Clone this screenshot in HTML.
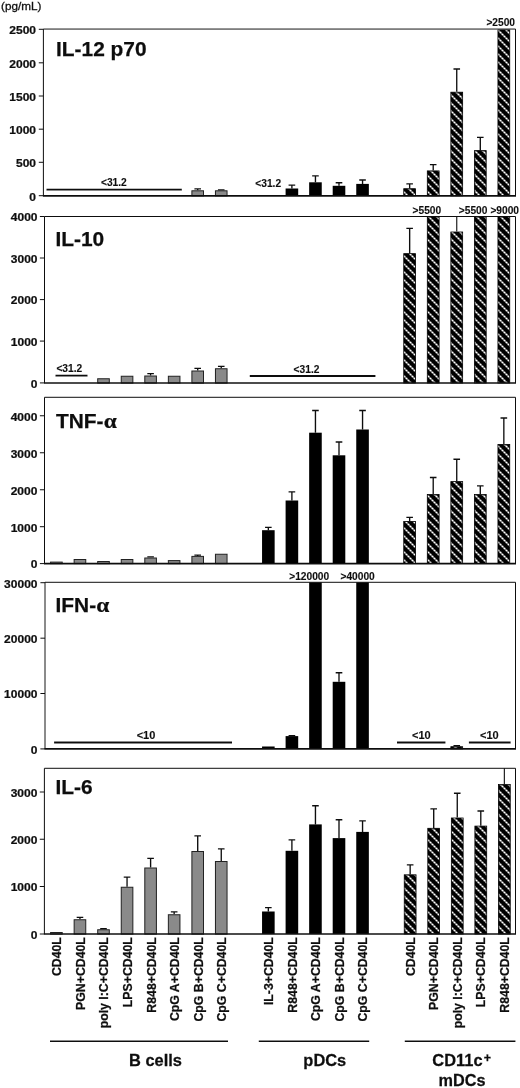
<!DOCTYPE html>
<html lang="en"><head><meta charset="utf-8"><title>Cytokine production</title>
<style>html,body{margin:0;padding:0;background:#fff}svg{display:block}text{font-family:"Liberation Sans",sans-serif;fill:#111}.b{font-weight:bold;stroke:#111;stroke-width:.25px}</style>
</head><body>
<svg width="520" height="1088" viewBox="0 0 520 1088">
<defs><pattern id="hat" x="0" y="0" width="8" height="8" patternUnits="userSpaceOnUse"><rect width="8" height="8" fill="#000"/><path d="M3,-1 L9,5 M-1,3 L5,9" stroke="#7c7c7c" stroke-width="1.45"/><path d="M3.65,-0.35h1.7v1.7h-1.7z M5.65,1.65h1.7v1.7h-1.7z M-0.35,3.65h1.7v1.7h-1.7z M1.65,5.65h1.7v1.7h-1.7z M7.65,3.65h1.7v1.7h-1.7z M3.65,7.65h1.7v1.7h-1.7z" fill="#fff"/></pattern><filter id="soft" filterUnits="userSpaceOnUse" x="0" y="0" width="520" height="1088"><feGaussianBlur stdDeviation="0.32"/></filter><filter id="soft2" filterUnits="userSpaceOnUse" x="0" y="0" width="520" height="1088"><feGaussianBlur stdDeviation="0.18"/></filter></defs>
<rect width="520" height="1088" fill="#fff"/>
<g filter="url(#soft2)"><rect x="403.75" y="188.70" width="11.80" height="7.10" fill="url(#hat)" stroke="#000" stroke-width="0.8"/>
<rect x="427.30" y="170.90" width="11.80" height="24.90" fill="url(#hat)" stroke="#000" stroke-width="0.8"/>
<rect x="450.85" y="92.20" width="11.80" height="103.60" fill="url(#hat)" stroke="#000" stroke-width="0.8"/>
<rect x="474.40" y="150.60" width="11.80" height="45.20" fill="url(#hat)" stroke="#000" stroke-width="0.8"/>
<rect x="497.95" y="29.90" width="11.80" height="165.90" fill="url(#hat)" stroke="#000" stroke-width="0.8"/>
<rect x="403.75" y="253.65" width="11.80" height="129.35" fill="url(#hat)" stroke="#000" stroke-width="0.8"/>
<rect x="427.30" y="216.80" width="11.80" height="166.20" fill="url(#hat)" stroke="#000" stroke-width="0.8"/>
<rect x="450.85" y="232.00" width="11.80" height="151.00" fill="url(#hat)" stroke="#000" stroke-width="0.8"/>
<rect x="474.40" y="216.80" width="11.80" height="166.20" fill="url(#hat)" stroke="#000" stroke-width="0.8"/>
<rect x="497.95" y="216.80" width="11.80" height="166.20" fill="url(#hat)" stroke="#000" stroke-width="0.8"/>
<rect x="403.75" y="521.40" width="11.80" height="42.20" fill="url(#hat)" stroke="#000" stroke-width="0.8"/>
<rect x="427.30" y="494.50" width="11.80" height="69.10" fill="url(#hat)" stroke="#000" stroke-width="0.8"/>
<rect x="450.85" y="481.60" width="11.80" height="82.00" fill="url(#hat)" stroke="#000" stroke-width="0.8"/>
<rect x="474.40" y="494.50" width="11.80" height="69.10" fill="url(#hat)" stroke="#000" stroke-width="0.8"/>
<rect x="497.95" y="444.40" width="11.80" height="119.20" fill="url(#hat)" stroke="#000" stroke-width="0.8"/>
<rect x="450.85" y="746.70" width="11.80" height="2.20" fill="url(#hat)" stroke="#000" stroke-width="0.8"/>
<rect x="404.25" y="874.80" width="11.80" height="59.20" fill="url(#hat)" stroke="#000" stroke-width="0.8"/>
<rect x="427.80" y="828.30" width="11.80" height="105.70" fill="url(#hat)" stroke="#000" stroke-width="0.8"/>
<rect x="451.35" y="818.00" width="11.80" height="116.00" fill="url(#hat)" stroke="#000" stroke-width="0.8"/>
<rect x="474.90" y="826.10" width="11.80" height="107.90" fill="url(#hat)" stroke="#000" stroke-width="0.8"/>
<rect x="498.45" y="784.60" width="11.80" height="149.40" fill="url(#hat)" stroke="#000" stroke-width="0.8"/></g>
<g filter="url(#soft)">
<text x="1" y="9.8" font-size="11.1" textLength="40.3" lengthAdjust="spacingAndGlyphs" style="stroke:#111;stroke-width:.3px">(pg/mL)</text>
<path d="M197.70,190.30 V188.50 M194.40,188.90 H201.00" stroke="#111" stroke-width="1.35" fill="none"/>
<rect x="191.90" y="190.80" width="11.60" height="5.00" fill="#8a8a8a" stroke="#222" stroke-width="1"/>
<path d="M221.25,190.30 V189.40 M217.95,189.80 H224.55" stroke="#111" stroke-width="1.35" fill="none"/>
<rect x="215.45" y="190.80" width="11.60" height="5.00" fill="#8a8a8a" stroke="#222" stroke-width="1"/>
<path d="M291.90,188.50 V184.70 M288.60,185.10 H295.20" stroke="#111" stroke-width="1.35" fill="none"/>
<rect x="285.60" y="188.50" width="12.60" height="7.30" fill="#000"/>
<path d="M315.45,182.30 V175.50 M312.15,175.90 H318.75" stroke="#111" stroke-width="1.35" fill="none"/>
<rect x="309.15" y="182.30" width="12.60" height="13.50" fill="#000"/>
<path d="M339.00,185.80 V182.30 M335.70,182.70 H342.30" stroke="#111" stroke-width="1.35" fill="none"/>
<rect x="332.70" y="185.80" width="12.60" height="10.00" fill="#000"/>
<path d="M362.55,183.90 V179.60 M359.25,180.00 H365.85" stroke="#111" stroke-width="1.35" fill="none"/>
<rect x="356.25" y="183.90" width="12.60" height="11.90" fill="#000"/>
<path d="M409.65,188.30 V183.40 M406.35,183.80 H412.95" stroke="#111" stroke-width="1.35" fill="none"/>
<path d="M433.20,170.50 V164.20 M429.90,164.60 H436.50" stroke="#111" stroke-width="1.35" fill="none"/>
<path d="M456.75,91.80 V68.60 M453.45,69.00 H460.05" stroke="#111" stroke-width="1.35" fill="none"/>
<path d="M480.30,150.20 V136.90 M477.00,137.30 H483.60" stroke="#111" stroke-width="1.35" fill="none"/>
<path d="M43.40,195.80 V29.05 H515.50 V195.80" stroke="#111" stroke-width="1" fill="none"/>
<path d="M42.90,195.80 H516.00" stroke="#111" stroke-width="1.7" fill="none"/>
<path d="M38.80,195.70 H43.40" stroke="#111" stroke-width="1" fill="none"/>
<text class="b" transform="translate(36.0,200.50) scale(1.045,1)" font-size="11.5" text-anchor="end">0</text>
<path d="M38.80,162.30 H43.40" stroke="#111" stroke-width="1" fill="none"/>
<text class="b" transform="translate(36.0,167.10) scale(1.045,1)" font-size="11.5" text-anchor="end">500</text>
<path d="M38.80,129.20 H43.40" stroke="#111" stroke-width="1" fill="none"/>
<text class="b" transform="translate(36.0,134.00) scale(1.045,1)" font-size="11.5" text-anchor="end">1000</text>
<path d="M38.80,96.00 H43.40" stroke="#111" stroke-width="1" fill="none"/>
<text class="b" transform="translate(36.0,100.80) scale(1.045,1)" font-size="11.5" text-anchor="end">1500</text>
<path d="M38.80,62.80 H43.40" stroke="#111" stroke-width="1" fill="none"/>
<text class="b" transform="translate(36.0,67.60) scale(1.045,1)" font-size="11.5" text-anchor="end">2000</text>
<path d="M38.80,29.30 H43.40" stroke="#111" stroke-width="1" fill="none"/>
<text class="b" transform="translate(36.0,34.10) scale(1.045,1)" font-size="11.5" text-anchor="end">2500</text>
<text class="b" x="56.0" y="55.6" font-size="20.9">IL-12 p70</text>
<rect x="97.70" y="378.75" width="11.60" height="4.25" fill="#8a8a8a" stroke="#222" stroke-width="1"/>
<rect x="121.25" y="376.25" width="11.60" height="6.75" fill="#8a8a8a" stroke="#222" stroke-width="1"/>
<path d="M150.60,375.50 V373.25 M147.30,373.65 H153.90" stroke="#111" stroke-width="1.35" fill="none"/>
<rect x="144.80" y="376.00" width="11.60" height="7.00" fill="#8a8a8a" stroke="#222" stroke-width="1"/>
<rect x="168.35" y="376.25" width="11.60" height="6.75" fill="#8a8a8a" stroke="#222" stroke-width="1"/>
<path d="M197.70,370.50 V368.00 M194.40,368.40 H201.00" stroke="#111" stroke-width="1.35" fill="none"/>
<rect x="191.90" y="371.00" width="11.60" height="12.00" fill="#8a8a8a" stroke="#222" stroke-width="1"/>
<path d="M221.25,368.25 V366.00 M217.95,366.40 H224.55" stroke="#111" stroke-width="1.35" fill="none"/>
<rect x="215.45" y="368.75" width="11.60" height="14.25" fill="#8a8a8a" stroke="#222" stroke-width="1"/>
<path d="M409.65,253.25 V227.90 M406.35,228.30 H412.95" stroke="#111" stroke-width="1.35" fill="none"/>
<path d="M456.75,231.60 V216.50" stroke="#111" stroke-width="1.1" fill="none"/>
<path d="M44.50,383.00 V216.50 H515.50 V383.00" stroke="#111" stroke-width="1" fill="none"/>
<path d="M44.00,383.00 H516.00" stroke="#111" stroke-width="1.7" fill="none"/>
<path d="M39.90,382.90 H44.50" stroke="#111" stroke-width="1" fill="none"/>
<text class="b" transform="translate(37.5,387.70) scale(1.045,1)" font-size="11.5" text-anchor="end">0</text>
<path d="M39.90,341.10 H44.50" stroke="#111" stroke-width="1" fill="none"/>
<text class="b" transform="translate(37.5,345.90) scale(1.045,1)" font-size="11.5" text-anchor="end">1000</text>
<path d="M39.90,299.60 H44.50" stroke="#111" stroke-width="1" fill="none"/>
<text class="b" transform="translate(37.5,304.40) scale(1.045,1)" font-size="11.5" text-anchor="end">2000</text>
<path d="M39.90,258.00 H44.50" stroke="#111" stroke-width="1" fill="none"/>
<text class="b" transform="translate(37.5,262.80) scale(1.045,1)" font-size="11.5" text-anchor="end">3000</text>
<path d="M39.90,216.50 H44.50" stroke="#111" stroke-width="1" fill="none"/>
<text class="b" transform="translate(37.5,221.30) scale(1.045,1)" font-size="11.5" text-anchor="end">4000</text>
<text class="b" x="55.4" y="245.6" font-size="20.9">IL-10</text>
<rect x="50.60" y="562.10" width="11.60" height="1.50" fill="#8a8a8a" stroke="#222" stroke-width="1"/>
<rect x="74.15" y="559.50" width="11.60" height="4.10" fill="#8a8a8a" stroke="#222" stroke-width="1"/>
<rect x="97.70" y="561.50" width="11.60" height="2.10" fill="#8a8a8a" stroke="#222" stroke-width="1"/>
<rect x="121.25" y="559.50" width="11.60" height="4.10" fill="#8a8a8a" stroke="#222" stroke-width="1"/>
<path d="M150.60,557.50 V556.40 M147.30,556.80 H153.90" stroke="#111" stroke-width="1.35" fill="none"/>
<rect x="144.80" y="558.00" width="11.60" height="5.60" fill="#8a8a8a" stroke="#222" stroke-width="1"/>
<rect x="168.35" y="560.60" width="11.60" height="3.00" fill="#8a8a8a" stroke="#222" stroke-width="1"/>
<path d="M197.70,555.90 V554.70 M194.40,555.10 H201.00" stroke="#111" stroke-width="1.35" fill="none"/>
<rect x="191.90" y="556.40" width="11.60" height="7.20" fill="#8a8a8a" stroke="#222" stroke-width="1"/>
<rect x="215.45" y="554.25" width="11.60" height="9.35" fill="#8a8a8a" stroke="#222" stroke-width="1"/>
<path d="M268.35,530.20 V526.90 M265.05,527.30 H271.65" stroke="#111" stroke-width="1.35" fill="none"/>
<rect x="262.05" y="530.20" width="12.60" height="33.40" fill="#000"/>
<path d="M291.90,500.50 V491.40 M288.60,491.80 H295.20" stroke="#111" stroke-width="1.35" fill="none"/>
<rect x="285.60" y="500.50" width="12.60" height="63.10" fill="#000"/>
<path d="M315.45,432.70 V410.10 M312.15,410.50 H318.75" stroke="#111" stroke-width="1.35" fill="none"/>
<rect x="309.15" y="432.70" width="12.60" height="130.90" fill="#000"/>
<path d="M339.00,455.30 V441.60 M335.70,442.00 H342.30" stroke="#111" stroke-width="1.35" fill="none"/>
<rect x="332.70" y="455.30" width="12.60" height="108.30" fill="#000"/>
<path d="M362.55,429.50 V410.10 M359.25,410.50 H365.85" stroke="#111" stroke-width="1.35" fill="none"/>
<rect x="356.25" y="429.50" width="12.60" height="134.10" fill="#000"/>
<path d="M409.65,521.00 V517.00 M406.35,517.40 H412.95" stroke="#111" stroke-width="1.35" fill="none"/>
<path d="M433.20,494.10 V477.10 M429.90,477.50 H436.50" stroke="#111" stroke-width="1.35" fill="none"/>
<path d="M456.75,481.20 V458.80 M453.45,459.20 H460.05" stroke="#111" stroke-width="1.35" fill="none"/>
<path d="M480.30,494.10 V485.50 M477.00,485.90 H483.60" stroke="#111" stroke-width="1.35" fill="none"/>
<path d="M503.85,444.00 V417.60 M500.55,418.00 H507.15" stroke="#111" stroke-width="1.35" fill="none"/>
<path d="M44.50,563.60 V397.30 H515.50 V563.60" stroke="#111" stroke-width="1" fill="none"/>
<path d="M44.00,563.60 H516.00" stroke="#111" stroke-width="1.7" fill="none"/>
<path d="M39.90,563.60 H44.50" stroke="#111" stroke-width="1" fill="none"/>
<text class="b" transform="translate(37.4,568.40) scale(1.045,1)" font-size="11.5" text-anchor="end">0</text>
<path d="M39.90,526.70 H44.50" stroke="#111" stroke-width="1" fill="none"/>
<text class="b" transform="translate(37.4,531.50) scale(1.045,1)" font-size="11.5" text-anchor="end">1000</text>
<path d="M39.90,489.75 H44.50" stroke="#111" stroke-width="1" fill="none"/>
<text class="b" transform="translate(37.4,494.55) scale(1.045,1)" font-size="11.5" text-anchor="end">2000</text>
<path d="M39.90,452.75 H44.50" stroke="#111" stroke-width="1" fill="none"/>
<text class="b" transform="translate(37.4,457.55) scale(1.045,1)" font-size="11.5" text-anchor="end">3000</text>
<path d="M39.90,415.75 H44.50" stroke="#111" stroke-width="1" fill="none"/>
<text class="b" transform="translate(37.4,420.55) scale(1.045,1)" font-size="11.5" text-anchor="end">4000</text>
<text class="b" x="56.0" y="428.2" font-size="20.9">TNF-</text>
<text class="b" transform="translate(103.79,428.2) scale(1.1,1)" font-size="21.3" style="font-family:'Liberation Serif',serif">α</text>
<rect x="262.05" y="746.50" width="12.60" height="2.40" fill="#000"/>
<path d="M291.90,736.10 V735.20 M288.60,735.60 H295.20" stroke="#111" stroke-width="1.35" fill="none"/>
<rect x="285.60" y="736.10" width="12.60" height="12.80" fill="#000"/>
<rect x="309.15" y="582.30" width="12.60" height="166.60" fill="#000"/>
<path d="M339.00,681.80 V672.30 M335.70,672.70 H342.30" stroke="#111" stroke-width="1.35" fill="none"/>
<rect x="332.70" y="681.80" width="12.60" height="67.10" fill="#000"/>
<rect x="356.25" y="582.30" width="12.60" height="166.60" fill="#000"/>
<path d="M456.75,746.30 V745.30 M453.45,745.70 H460.05" stroke="#111" stroke-width="1.35" fill="none"/>
<path d="M45.00,748.90 V582.30 H515.50 V748.90" stroke="#111" stroke-width="1" fill="none"/>
<path d="M44.50,748.90 H516.00" stroke="#111" stroke-width="1.7" fill="none"/>
<path d="M40.40,748.90 H45.00" stroke="#111" stroke-width="1" fill="none"/>
<text class="b" transform="translate(37.5,753.70) scale(1.045,1)" font-size="11.5" text-anchor="end">0</text>
<path d="M40.40,693.50 H45.00" stroke="#111" stroke-width="1" fill="none"/>
<text class="b" transform="translate(37.5,698.30) scale(1.045,1)" font-size="11.5" text-anchor="end">10000</text>
<path d="M40.40,638.20 H45.00" stroke="#111" stroke-width="1" fill="none"/>
<text class="b" transform="translate(37.5,643.00) scale(1.045,1)" font-size="11.5" text-anchor="end">20000</text>
<path d="M40.40,582.70 H45.00" stroke="#111" stroke-width="1" fill="none"/>
<text class="b" transform="translate(37.5,587.50) scale(1.045,1)" font-size="11.5" text-anchor="end">30000</text>
<text class="b" x="55.5" y="611.8" font-size="20.9">IFN-</text>
<text class="b" transform="translate(96.33,611.8) scale(1.1,1)" font-size="21.3" style="font-family:'Liberation Serif',serif">α</text>
<rect x="50.60" y="932.50" width="11.60" height="1.50" fill="#8a8a8a" stroke="#222" stroke-width="1"/>
<path d="M79.95,919.25 V917.00 M76.65,917.40 H83.25" stroke="#111" stroke-width="1.35" fill="none"/>
<rect x="74.15" y="919.75" width="11.60" height="14.25" fill="#8a8a8a" stroke="#222" stroke-width="1"/>
<path d="M103.50,929.25 V928.30 M100.20,928.70 H106.80" stroke="#111" stroke-width="1.35" fill="none"/>
<rect x="97.70" y="929.75" width="11.60" height="4.25" fill="#8a8a8a" stroke="#222" stroke-width="1"/>
<path d="M127.05,886.75 V876.75 M123.75,877.15 H130.35" stroke="#111" stroke-width="1.35" fill="none"/>
<rect x="121.25" y="887.25" width="11.60" height="46.75" fill="#8a8a8a" stroke="#222" stroke-width="1"/>
<path d="M150.60,867.50 V858.00 M147.30,858.40 H153.90" stroke="#111" stroke-width="1.35" fill="none"/>
<rect x="144.80" y="868.00" width="11.60" height="66.00" fill="#8a8a8a" stroke="#222" stroke-width="1"/>
<path d="M174.15,914.25 V911.50 M170.85,911.90 H177.45" stroke="#111" stroke-width="1.35" fill="none"/>
<rect x="168.35" y="914.75" width="11.60" height="19.25" fill="#8a8a8a" stroke="#222" stroke-width="1"/>
<path d="M197.70,851.00 V835.50 M194.40,835.90 H201.00" stroke="#111" stroke-width="1.35" fill="none"/>
<rect x="191.90" y="851.50" width="11.60" height="82.50" fill="#8a8a8a" stroke="#222" stroke-width="1"/>
<path d="M221.25,861.00 V848.50 M217.95,848.90 H224.55" stroke="#111" stroke-width="1.35" fill="none"/>
<rect x="215.45" y="861.50" width="11.60" height="72.50" fill="#8a8a8a" stroke="#222" stroke-width="1"/>
<path d="M268.35,911.50 V907.20 M265.05,907.60 H271.65" stroke="#111" stroke-width="1.35" fill="none"/>
<rect x="262.05" y="911.50" width="12.60" height="22.50" fill="#000"/>
<path d="M291.90,850.80 V839.50 M288.60,839.90 H295.20" stroke="#111" stroke-width="1.35" fill="none"/>
<rect x="285.60" y="850.80" width="12.60" height="83.20" fill="#000"/>
<path d="M315.45,824.40 V805.30 M312.15,805.70 H318.75" stroke="#111" stroke-width="1.35" fill="none"/>
<rect x="309.15" y="824.40" width="12.60" height="109.60" fill="#000"/>
<path d="M339.00,838.10 V819.30 M335.70,819.70 H342.30" stroke="#111" stroke-width="1.35" fill="none"/>
<rect x="332.70" y="838.10" width="12.60" height="95.90" fill="#000"/>
<path d="M362.55,831.90 V820.40 M359.25,820.80 H365.85" stroke="#111" stroke-width="1.35" fill="none"/>
<rect x="356.25" y="831.90" width="12.60" height="102.10" fill="#000"/>
<path d="M410.15,874.40 V864.50 M406.85,864.90 H413.45" stroke="#111" stroke-width="1.35" fill="none"/>
<path d="M433.70,827.90 V808.50 M430.40,808.90 H437.00" stroke="#111" stroke-width="1.35" fill="none"/>
<path d="M457.25,817.60 V792.80 M453.95,793.20 H460.55" stroke="#111" stroke-width="1.35" fill="none"/>
<path d="M480.80,825.70 V810.60 M477.50,811.00 H484.10" stroke="#111" stroke-width="1.35" fill="none"/>
<path d="M504.35,784.20 V768.30" stroke="#111" stroke-width="1.1" fill="none"/>
<path d="M44.40,934.00 V768.30 H515.50 V934.00" stroke="#111" stroke-width="1" fill="none"/>
<path d="M43.90,934.00 H516.00" stroke="#111" stroke-width="1.7" fill="none"/>
<path d="M39.80,934.00 H44.40" stroke="#111" stroke-width="1" fill="none"/>
<text class="b" transform="translate(37.4,938.80) scale(1.045,1)" font-size="11.5" text-anchor="end">0</text>
<path d="M39.80,886.50 H44.40" stroke="#111" stroke-width="1" fill="none"/>
<text class="b" transform="translate(37.4,891.30) scale(1.045,1)" font-size="11.5" text-anchor="end">1000</text>
<path d="M39.80,839.25 H44.40" stroke="#111" stroke-width="1" fill="none"/>
<text class="b" transform="translate(37.4,844.05) scale(1.045,1)" font-size="11.5" text-anchor="end">2000</text>
<path d="M39.80,792.00 H44.40" stroke="#111" stroke-width="1" fill="none"/>
<text class="b" transform="translate(37.4,796.80) scale(1.045,1)" font-size="11.5" text-anchor="end">3000</text>
<text class="b" x="55.5" y="794.2" font-size="20.9">IL-6</text>
<path d="M46.5,189.6 H181.8" stroke="#111" stroke-width="1.8" fill="none"/>
<text class="b" transform="translate(113.9,186.3) scale(1.0,1)" font-size="10.2" text-anchor="middle" style="stroke-width:.12px">&lt;31.2</text>
<text class="b" transform="translate(268.2,187.1) scale(1.0,1)" font-size="10.2" text-anchor="middle" style="stroke-width:.12px">&lt;31.2</text>
<text class="b" transform="translate(500.7,25.7) scale(1.0,1)" font-size="10.2" text-anchor="middle" style="stroke-width:.12px">&gt;2500</text>
<path d="M55.5,375.6 H87.5" stroke="#111" stroke-width="1.8" fill="none"/>
<text class="b" transform="translate(69.3,372.3) scale(1.0,1)" font-size="10.2" text-anchor="middle" style="stroke-width:.12px">&lt;31.2</text>
<path d="M249.8,376.0 H375.4" stroke="#111" stroke-width="1.8" fill="none"/>
<text class="b" transform="translate(306.5,372.6) scale(1.0,1)" font-size="10.2" text-anchor="middle" style="stroke-width:.12px">&lt;31.2</text>
<text class="b" transform="translate(426.9,213.7) scale(1.0,1)" font-size="10.2" text-anchor="middle" style="stroke-width:.12px">&gt;5500</text>
<text class="b" transform="translate(473.1,213.7) scale(1.0,1)" font-size="10.2" text-anchor="middle" style="stroke-width:.12px">&gt;5500</text>
<text class="b" transform="translate(504.7,213.7) scale(1.0,1)" font-size="10.2" text-anchor="middle" style="stroke-width:.12px">&gt;9000</text>
<path d="M54.1,742.5 H232.0" stroke="#111" stroke-width="1.8" fill="none"/>
<text class="b" transform="translate(146.0,738.8) scale(1.08,1)" font-size="10.2" text-anchor="middle" style="stroke-width:.12px">&lt;10</text>
<path d="M397.0,742.5 H445.4" stroke="#111" stroke-width="1.8" fill="none"/>
<text class="b" transform="translate(421.3,738.9) scale(1.08,1)" font-size="10.2" text-anchor="middle" style="stroke-width:.12px">&lt;10</text>
<path d="M468.9,742.5 H510.6" stroke="#111" stroke-width="1.8" fill="none"/>
<text class="b" transform="translate(489.4,738.9) scale(1.08,1)" font-size="10.2" text-anchor="middle" style="stroke-width:.12px">&lt;10</text>
<text class="b" transform="translate(309.2,579.8) scale(1.0,1)" font-size="10.2" text-anchor="middle" style="stroke-width:.12px">&gt;120000</text>
<text class="b" transform="translate(357.6,579.8) scale(1.0,1)" font-size="10.2" text-anchor="middle" style="stroke-width:.12px">&gt;40000</text>
<text class="b" transform="translate(61.30,937.2) rotate(-90) scale(1,1.045)" font-size="12.3" text-anchor="end">CD40L</text>
<text class="b" transform="translate(84.85,937.2) rotate(-90) scale(1,1.045)" font-size="12.3" text-anchor="end">PGN+CD40L</text>
<text class="b" transform="translate(108.40,937.2) rotate(-90) scale(1,1.045)" font-size="12.3" text-anchor="end">poly I:C+CD40L</text>
<text class="b" transform="translate(131.95,937.2) rotate(-90) scale(1,1.045)" font-size="12.3" text-anchor="end">LPS+CD40L</text>
<text class="b" transform="translate(155.50,937.2) rotate(-90) scale(1,1.045)" font-size="12.3" text-anchor="end">R848+CD40L</text>
<text class="b" transform="translate(179.05,937.2) rotate(-90) scale(1,1.045)" font-size="12.3" text-anchor="end">CpG A+CD40L</text>
<text class="b" transform="translate(202.60,937.2) rotate(-90) scale(1,1.045)" font-size="12.3" text-anchor="end">CpG B+CD40L</text>
<text class="b" transform="translate(226.15,937.2) rotate(-90) scale(1,1.045)" font-size="12.3" text-anchor="end">CpG C+CD40L</text>
<text class="b" transform="translate(273.25,937.2) rotate(-90) scale(1,1.045)" font-size="12.3" text-anchor="end">IL-3+CD40L</text>
<text class="b" transform="translate(296.80,937.2) rotate(-90) scale(1,1.045)" font-size="12.3" text-anchor="end">R848+CD40L</text>
<text class="b" transform="translate(320.35,937.2) rotate(-90) scale(1,1.045)" font-size="12.3" text-anchor="end">CpG A+CD40L</text>
<text class="b" transform="translate(343.90,937.2) rotate(-90) scale(1,1.045)" font-size="12.3" text-anchor="end">CpG B+CD40L</text>
<text class="b" transform="translate(367.45,937.2) rotate(-90) scale(1,1.045)" font-size="12.3" text-anchor="end">CpG C+CD40L</text>
<text class="b" transform="translate(414.55,937.2) rotate(-90) scale(1,1.045)" font-size="12.3" text-anchor="end">CD40L</text>
<text class="b" transform="translate(438.10,937.2) rotate(-90) scale(1,1.045)" font-size="12.3" text-anchor="end">PGN+CD40L</text>
<text class="b" transform="translate(461.65,937.2) rotate(-90) scale(1,1.045)" font-size="12.3" text-anchor="end">poly I:C+CD40L</text>
<text class="b" transform="translate(485.20,937.2) rotate(-90) scale(1,1.045)" font-size="12.3" text-anchor="end">LPS+CD40L</text>
<text class="b" transform="translate(508.75,937.2) rotate(-90) scale(1,1.045)" font-size="12.3" text-anchor="end">R848+CD40L</text>
<path d="M50.0,1041.3 H228.0" stroke="#111" stroke-width="1.5" fill="none"/>
<path d="M258.8,1041.3 H369.2" stroke="#111" stroke-width="1.5" fill="none"/>
<path d="M404.8,1041.3 H515.4" stroke="#111" stroke-width="1.5" fill="none"/>
<text class="b" transform="translate(155.5,1065.7) scale(1.04,1)" font-size="15.8" text-anchor="middle">B cells</text>
<text class="b" transform="translate(324.8,1065.5) scale(1.04,1)" font-size="15.8" text-anchor="middle">pDCs</text>
<text class="b" transform="translate(432.3,1065.5) scale(1.04,1)" font-size="15.8">CD11c<tspan font-size="12" dy="-3.8" dx="1.2">+</tspan></text>
<text class="b" transform="translate(462.1,1085.6) scale(1.03,1)" font-size="15.8" text-anchor="middle">mDCs</text>
</g>
</svg></body></html>
